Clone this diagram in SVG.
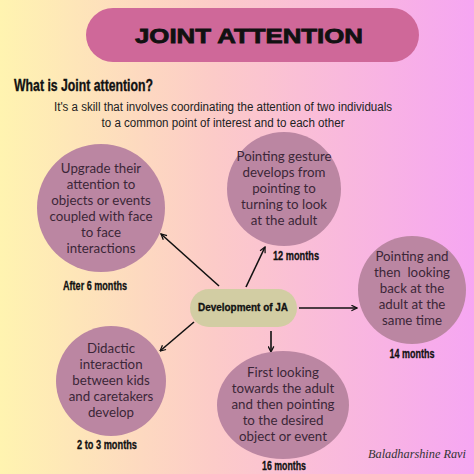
<svg xmlns="http://www.w3.org/2000/svg" width="474" height="474" viewBox="0 0 474 474">
<defs>
<linearGradient id="bg" x1="0" y1="0" x2="1" y2="0">
<stop offset="0" stop-color="#fff4b0"/>
<stop offset="0.45" stop-color="#fccbc8"/>
<stop offset="1" stop-color="#f6a6f2"/>
</linearGradient>
<marker id="ah" viewBox="0 0 10 10" refX="9" refY="5" markerWidth="7" markerHeight="7" orient="auto" markerUnits="userSpaceOnUse">
<path d="M1,1 L9,5 L1,9" fill="none" stroke="#111" stroke-width="1.8"/>
</marker>
<style>
.c{fill:#bb86a2}
.t{font-family:Lato,"Open Sans",sans-serif;font-size:13.3px;fill:#3b2638;text-anchor:middle}
.m{font-family:"Liberation Sans",Arial,sans-serif;font-weight:bold;font-size:12.5px;fill:#111;text-anchor:middle;stroke:#111;stroke-width:0.3}
.a{stroke:#111;stroke-width:1.6;fill:none;marker-end:url(#ah)}
</style>
</defs>
<rect width="474" height="474" fill="url(#bg)"/>
<g id="title">
<rect x="86" y="8" width="333" height="54" rx="27" fill="#cf6899"/>
<text x="249" y="43" font-family="'Liberation Sans',Arial,sans-serif" font-weight="bold" font-size="21" fill="#111" stroke="#111" stroke-width="0.8" text-anchor="middle" textLength="228" lengthAdjust="spacingAndGlyphs">JOINT ATTENTION</text>
</g>
<g id="intro">
<text x="14" y="91" font-family="'Liberation Sans',Arial,sans-serif" font-weight="bold" font-size="16.5" fill="#111" stroke="#111" stroke-width="0.35" textLength="139" lengthAdjust="spacingAndGlyphs">What is Joint attention?</text>
<text x="223" y="111" font-family="'Liberation Sans',Arial,sans-serif" font-size="12" fill="#222" text-anchor="middle" textLength="338" lengthAdjust="spacingAndGlyphs">It's a skill that involves coordinating the attention of two individuals</text>
<text x="223" y="127" font-family="'Liberation Sans',Arial,sans-serif" font-size="12" fill="#222" text-anchor="middle" textLength="243" lengthAdjust="spacingAndGlyphs">to a common point of interest and to each other</text>
</g>
<g id="connectors">
<line class="a" x1="219" y1="286" x2="161" y2="234"/>
<line class="a" x1="246" y1="287" x2="265" y2="247"/>
<line class="a" x1="299" y1="308" x2="357" y2="308"/>
<line class="a" x1="271" y1="331" x2="271" y2="352"/>
<line class="a" x1="194" y1="322" x2="160" y2="351"/>
</g>
<g id="center">
<rect x="190" y="289" width="107" height="38" rx="19" fill="#d2cda3"/>
<text x="243" y="311" font-family="'Liberation Sans',Arial,sans-serif" font-weight="bold" font-size="10" fill="#111" stroke="#111" stroke-width="0.3" text-anchor="middle" textLength="90" lengthAdjust="spacingAndGlyphs">Development of JA</text>
</g>
<g id="n6">
<circle class="c" cx="101" cy="208" r="64"/>
<text class="t" x="101" y="173">Upgrade their</text>
<text class="t" x="101" y="189">attention to</text>
<text class="t" x="101" y="205">objects or events</text>
<text class="t" x="101" y="221">coupled with face</text>
<text class="t" x="101" y="237">to face</text>
<text class="t" x="101" y="253">interactions</text>
<text class="m" x="95" y="290" textLength="64" lengthAdjust="spacingAndGlyphs">After 6 months</text>
</g>
<g id="n12">
<circle class="c" cx="284" cy="189" r="57"/>
<text class="t" x="284" y="161">Pointing gesture</text>
<text class="t" x="284" y="177">develops from</text>
<text class="t" x="284" y="193">pointing to</text>
<text class="t" x="284" y="209">turning to look</text>
<text class="t" x="284" y="225">at the adult</text>
<text class="m" x="296" y="260" textLength="46" lengthAdjust="spacingAndGlyphs">12 months</text>
</g>
<g id="n14">
<circle class="c" cx="412" cy="290" r="54"/>
<text class="t" x="412" y="261">Pointing and</text>
<text class="t" x="412" y="277" xml:space="preserve">then  looking</text>
<text class="t" x="412" y="293">back at the</text>
<text class="t" x="412" y="309">adult at the</text>
<text class="t" x="412" y="325">same time</text>
<text class="m" x="412" y="358" textLength="45" lengthAdjust="spacingAndGlyphs">14 months</text>
</g>
<g id="n2">
<circle class="c" cx="111" cy="381" r="55"/>
<text class="t" x="111" y="353">Didactic</text>
<text class="t" x="111" y="369">interaction</text>
<text class="t" x="111" y="385">between kids</text>
<text class="t" x="111" y="401">and caretakers</text>
<text class="t" x="111" y="417">develop</text>
<text class="m" x="107" y="449" textLength="60" lengthAdjust="spacingAndGlyphs">2 to 3 months</text>
</g>
<g id="n16">
<ellipse class="c" cx="283" cy="405" rx="66" ry="54"/>
<text class="t" x="283" y="377">First looking</text>
<text class="t" x="283" y="393">towards the adult</text>
<text class="t" x="283" y="409">and then pointing</text>
<text class="t" x="283" y="425">to the desired</text>
<text class="t" x="283" y="441">object or event</text>
<text class="m" x="284" y="470" textLength="44" lengthAdjust="spacingAndGlyphs">16 months</text>
</g>
<text x="417" y="458" font-family="'Liberation Serif',serif" font-style="italic" font-size="13" fill="#333" text-anchor="middle" textLength="98" lengthAdjust="spacingAndGlyphs">Baladharshine Ravi</text>
</svg>
